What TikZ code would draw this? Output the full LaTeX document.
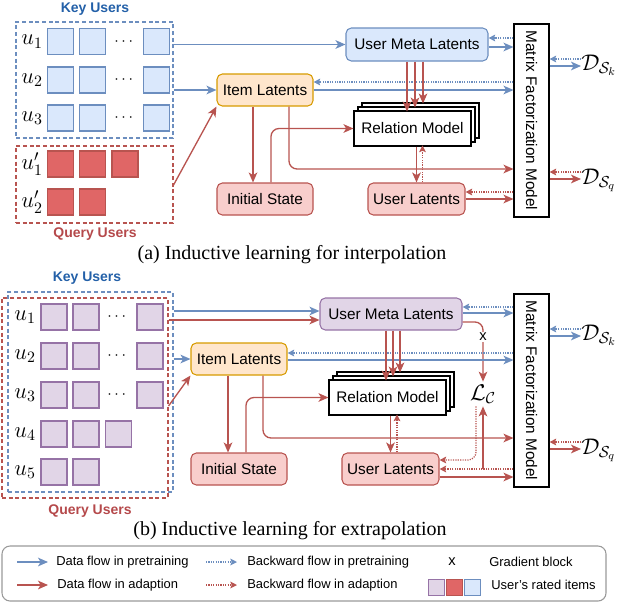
\RequirePackage{fix-cm}
\documentclass[tikz,border=0pt]{standalone}
\usepackage[no-math]{fontspec}
\setmainfont{Liberation Serif}
\setsansfont{Liberation Sans}
\usepackage{amsmath,amssymb}
\usepackage{graphicx}
\usetikzlibrary{arrows.meta,calc,shadows,positioning}

\definecolor{bluel}{HTML}{6C8EBF}
\definecolor{bluef}{HTML}{DAE8FC}
\definecolor{redl}{HTML}{B85450}
\definecolor{redsq}{HTML}{E06666}
\definecolor{pinkf}{HTML}{F8CECC}
\definecolor{purpl}{HTML}{9673A6}
\definecolor{purpf}{HTML}{E1D5E7}
\definecolor{orgl}{HTML}{D79B00}
\definecolor{orgf}{HTML}{FFE6CC}
\definecolor{keyc}{HTML}{2360A8}
\definecolor{qryc}{HTML}{B5494B}
\definecolor{legc}{HTML}{999999}

\newcommand{\blkfont}{\sffamily\fontsize{11.5}{13}\selectfont}
\newcommand{\grpfont}{\sffamily\bfseries\fontsize{10.5}{12}\selectfont}
\newcommand{\capfont}{\rmfamily\fontsize{15}{18}\selectfont}
\newcommand{\lgdfont}{\sffamily\fontsize{9.7}{11}\selectfont}
\newcommand{\symsize}{\fontsize{17}{20}\selectfont}

\begin{document}
\begin{tikzpicture}[x=0.75pt, y=-0.75pt,
  blk/.style={draw, rounded corners=4pt, line width=0.8pt, minimum height=24pt, inner sep=2pt, font=\blkfont},
  itembox/.style={blk, draw=orgl, fill=orgf, minimum width=72pt},
  ltbox/.style={blk, draw=redl, fill=pinkf, minimum width=72.75pt},
  metaA/.style={blk, draw=bluel, fill=bluef, minimum width=106.5pt, minimum height=24.75pt},
  metaB/.style={blk, draw=purpl, fill=purpf, minimum width=106.5pt},
  relbox/.style={draw, line width=0.8pt, fill=white, minimum width=87.75pt, minimum height=26.25pt, font=\blkfont,
    double copy shadow={shadow xshift=3pt, shadow yshift=3pt}},
  mfbox/.style={draw, line width=0.8pt, minimum width=26.25pt, minimum height=144.75pt, inner sep=0pt, font=\blkfont},
  keyframe/.style={draw=bluel, line width=0.8pt, dash pattern=on 3pt off 2pt, inner sep=0pt},
  qryframe/.style={draw=redl, line width=0.8pt, dash pattern=on 3pt off 2pt, inner sep=0pt},
  sq/.style={draw, line width=0.8pt, minimum size=19.5pt, inner sep=0pt},
  itemB/.style={sq, draw=bluel, fill=bluef},
  itemR/.style={sq, draw=redl, fill=redsq},
  itemP/.style={sq, draw=purpl, fill=purpf},
  ulbl/.style={font=\symsize, inner sep=0pt},
  dots/.style={font=\fontsize{12}{14}\selectfont, inner sep=0pt},
  dset/.style={anchor=base west, inner sep=0pt, font=\symsize},
  lossnode/.style={inner sep=2pt, font=\symsize},
  gradx/.style={fill=white, inner sep=1pt, font=\sffamily\fontsize{11}{12}\selectfont},
  dataB/.style={draw=bluel, line width=1pt, -{Stealth[length=7.5pt,width=6.5pt,inset=2pt]}},
  dataR/.style={draw=redl, line width=1pt, -{Stealth[length=7.5pt,width=6.5pt,inset=2pt]}},
  backB/.style={draw=bluel, line width=0.9pt, dash pattern=on 0.9pt off 0.9pt, -{Stealth[length=5pt,width=5pt,inset=1pt]}},
  backR/.style={draw=redl, line width=0.9pt, dash pattern=on 0.9pt off 0.9pt, -{Stealth[length=5pt,width=5pt,inset=1pt]}},
  lgtext/.style={anchor=west, inner sep=0pt, font=\lgdfont}]
\useasboundingbox (0,0) rectangle (624,603);

% ---------- (a) interpolation ----------
\node[font=\grpfont, text=keyc] (keylbla) at (95,9) {Key Users};
\node[keyframe, minimum width=117.75pt, minimum height=87pt] (keya) at (94.5,80) {};
\node[qryframe, minimum width=117.75pt, minimum height=57.75pt] (qrya) at (94.5,184.5) {};
\node[font=\grpfont, text=qryc] (qrylbla) at (95,234) {Query Users};

\foreach \row/\ypos in {1/41.5, 2/80, 3/118} {
  \node[ulbl] (ua\row) at (32,\ypos) {$u_{\row}$};
  \node[itemB] (ka\row a) at (60.3,\ypos) {};
  \node[itemB] (ka\row b) at (92.7,\ypos) {};
  \node[dots] (ka\row d) at (125,\ypos) {$\cdots$};
  \node[itemB] (ka\row c) at (156.3,\ypos) {};
}
\node[ulbl] (qa1) at (32,164) {$u'_1$};
\node[itemR] (qa1a) at (60.3,164) {};
\node[itemR] (qa1b) at (92.7,164) {};
\node[itemR] (qa1c) at (125,164) {};
\node[ulbl] (qa2) at (32,202) {$u'_2$};
\node[itemR] (qa2a) at (60.3,202) {};
\node[itemR] (qa2b) at (92.7,202) {};

\node[itembox] (ila) at (265,90) {Item Latents};
\node[ltbox, minimum width=72pt] (isa) at (265,199) {Initial State};
\node[metaA] (umla) at (417,44.5) {User Meta Latents};
\node[relbox] (rma) at (412.5,128.5) {Relation Model};
\node[ltbox] (ula) at (416.5,199) {User Latents};
\node[mfbox] (mfa) at (531.5,120.5) {\rotatebox{-90}{Matrix Factorization Model}};
\node[dset] (dka) at (581,70) {$\mathcal{D}_{\mathcal{S}_k}$};
\node[dset] (dqa) at (581,184) {$\mathcal{D}_{\mathcal{S}_q}$};

\draw[dataB] (keya.east |- umla.west) -- (umla.west);
\draw[dataB] (keya.east |- ila.west) -- (ila.west);
\draw[dataR] (qrya.east |- 0,185) -- (ila.south west);
\draw[backB] (mfa.west |- 0,38) -- (umla.east |- 0,38);
\draw[dataB] (umla.east |- 0,47) -- (mfa.west |- 0,47);
\draw[backB] (mfa.west |- 0,82) -- (ila.east |- 0,82);
\draw[dataB] (ila.east) -- (ila.east -| mfa.west);
\foreach \dx/\len in {-10/50, -2/46, 6/42}
  \draw[dataR] ($(umla.south)+(\dx,0)$) -- ++(0,\len);
\draw[dataR] ($(ila.south)+(-12,0)$) -- ($(isa.north)+(-12,0)$);
\draw[dataR, rounded corners=6pt] ($(isa.north)+(6,0)$) |- (rma.west);
\draw[dataR, rounded corners=6pt] ($(ila.south)+(24,0)$) |- (mfa.west |- 0,169);
\draw[dataR] (ula.north |- rma.south) -- (ula.north);
\draw[backR] ($(ula.north)+(6,0)$) -- ++(0,-37);
\draw[backR] (mfa.west |- 0,192) -- (ula.east |- 0,192);
\draw[dataR] (ula.east |- 0,199) -- (mfa.west |- 0,199);
\draw[backB] (dka.west |- 0,59) -- (mfa.east |- 0,59);
\draw[dataB] (mfa.east |- 0,66) -- (dka.west |- 0,66);
\draw[backR] (dqa.west |- 0,172) -- (mfa.east |- 0,172);
\draw[dataR] (mfa.east |- 0,179) -- (dqa.west |- 0,179);

\node[font=\capfont] (capa) at (292,255) {(a) Inductive learning for interpolation};

% ---------- (b) extrapolation ----------
\node[font=\grpfont, text=keyc] (keylblb) at (87,278) {Key Users};
\node[qryframe, minimum width=124.5pt, minimum height=150pt] (qryb) at (85,398) {};
\node[keyframe, minimum width=123.75pt, minimum height=150pt] (keyb) at (90.5,392) {};
\node[font=\grpfont, text=qryc] (qrylblb) at (90,511) {Query Users};

\foreach \row/\ypos in {1/317, 2/356, 3/395} {
  \node[ulbl] (ub\row) at (25,\ypos) {$u_{\row}$};
  \node[itemP] (kb\row a) at (54,\ypos) {};
  \node[itemP] (kb\row b) at (86,\ypos) {};
  \node[dots] (kb\row d) at (118,\ypos) {$\cdots$};
  \node[itemP] (kb\row c) at (150,\ypos) {};
}
\node[ulbl] (ub4) at (25,434) {$u_4$};
\node[itemP] (kb4a) at (54,434) {};
\node[itemP] (kb4b) at (86,434) {};
\node[itemP] (kb4c) at (118.5,434) {};
\node[ulbl] (ub5) at (25,472) {$u_5$};
\node[itemP] (kb5a) at (54,472) {};
\node[itemP] (kb5b) at (86,472) {};

\node[itembox] (ilb) at (239,359) {Item Latents};
\node[ltbox, minimum width=72pt] (isb) at (239,469) {Initial State};
\node[metaB] (umlb) at (391,314) {User Meta Latents};
\node[relbox] (rmb) at (387.5,397.5) {Relation Model};
\node[ltbox] (ulb) at (390.5,469) {User Latents};
\node[lossnode] (lc) at (483,394) {$\mathcal{L}_{\mathcal{C}}$};
\node[mfbox] (mfb) at (531.5,390.5) {\rotatebox{-90}{Matrix Factorization Model}};
\node[dset] (dkb) at (581,340) {$\mathcal{D}_{\mathcal{S}_k}$};
\node[dset] (dqb) at (581,454) {$\mathcal{D}_{\mathcal{S}_q}$};

\draw[dataB] (keyb.east |- 0,311) -- (umlb.west |- 0,311);
\draw[dataR] (qryb.east |- 0,320) -- (umlb.west |- 0,320);
\draw[dataB] (keyb.east |- ilb.west) -- (ilb.west);
\draw[dataR] (qryb.east |- 0,406) -- (ilb.south west);
\draw[backB] (mfb.west |- 0,307) -- (umlb.east |- 0,307);
\draw[dataB] (umlb.east |- 0,313) -- (mfb.west |- 0,313);
\draw[dataR, rounded corners=6pt] (umlb.east |- 0,322) -| (lc.north);
\node[gradx] (gxb) at (483,337) {x};
\draw[backB] (mfb.west |- 0,353) -- (ilb.east |- 0,353);
\draw[dataB] (ilb.east |- 0,360) -- (mfb.west |- 0,360);
\foreach \dx/\len in {-5/50, 2/46, 9/42}
  \draw[dataR] ($(umlb.south)+(\dx,0)$) -- ++(0,\len);
\draw[dataR] ($(ilb.south)+(-11,0)$) -- ($(isb.north)+(-11,0)$);
\draw[dataR, rounded corners=6pt] ($(isb.north)+(7,0)$) |- (rmb.west);
\draw[dataR, rounded corners=6pt] ($(ilb.south)+(24,0)$) |- (mfb.west |- 0,438);
\draw[dataR] (ulb.north |- rmb.south) -- (ulb.north);
\draw[backR] ($(ulb.north)+(6.5,0)$) -- ++(0,-38);
\draw[backR, rounded corners=6pt] ($(lc.south)+(-7,0)$) |- (ulb.east |- 0,460);
\draw[backR] (mfb.west |- ulb.east) -- (ulb.east);
\draw[dataR] (lc.south |- ulb.east) -- (lc.south);
\draw[dataR] (ulb.east |- 0,477) -- (mfb.west |- 0,477);
\draw[backB] (dkb.west |- 0,329) -- (mfb.east |- 0,329);
\draw[dataB] (mfb.east |- 0,336) -- (dkb.west |- 0,336);
\draw[backR] (dqb.west |- 0,442) -- (mfb.east |- 0,442);
\draw[dataR] (mfb.east |- 0,449) -- (dqb.west |- 0,449);

\node[font=\capfont] (capb) at (290,531) {(b) Inductive learning for extrapolation};

% ---------- legend ----------
\node[draw=legc, rounded corners=6pt, line width=0.8pt, minimum width=453pt, minimum height=41.25pt] (lgd) at (304,573.5) {};
\coordinate (lga) at (17,562);
\coordinate (lgb) at (17,585);
\coordinate (lgc) at (206,562);
\coordinate (lgd2) at (206,585);
\draw[dataB] (lga) -- ++(31,0);
\draw[dataR] (lgb) -- ++(31,0);
\draw[backB] (lgc) -- ++(31,0);
\draw[backR] (lgd2) -- ++(31,0);
\node[lgtext] (lta) at (56,562) {Data flow in pretraining};
\node[lgtext] (ltb) at (57,585) {Data flow in adaption};
\node[lgtext] (ltc) at (247,562) {Backward flow in pretraining};
\node[lgtext] (ltd) at (247,585) {Backward flow in adaption};
\node[font=\sffamily\fontsize{11}{12}\selectfont] (lgx) at (452,562) {x};
\node[lgtext] (lte) at (489,562) {Gradient block};
\node[sq, draw=purpl, fill=purpf, minimum size=12pt] (lsa) at (436.5,587.5) {};
\node[sq, draw=redl, fill=redsq, minimum size=12pt] (lsb) at (454.5,587.5) {};
\node[sq, draw=bluel, fill=bluef, minimum size=12pt] (lsc) at (472.5,587.5) {};
\node[lgtext] (ltf) at (491,585) {User's rated items};
\end{tikzpicture}
\end{document}
